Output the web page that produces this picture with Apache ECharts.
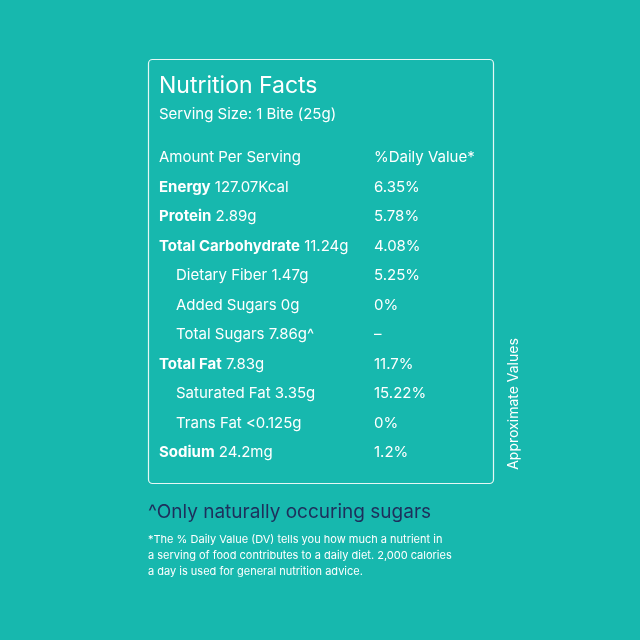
<!DOCTYPE html><html><head><meta charset="utf-8"><script src="https://cdn.jsdelivr.net/npm/echarts@6/dist/echarts.min.js"></script>
<style>html,body{margin:0;background:#17b8ae}#c{width:640px;height:640px}</style></head><body><div id="c"></div><script>
const names=["Energy","Protein","Total Carbohydrate","Dietary Fiber","Added Sugars","Total Sugars","Total Fat","Saturated Fat","Trans Fat","Sodium"];
const amounts=["127.07Kcal","2.89g","11.24g","1.47g","0g","7.86g^","7.83g","3.35g","<0.125g","24.2mg"];
const dailyValues=["6.35%","5.78%","4.08%","5.25%","0%","–","11.7%","15.22%","0%","1.2%"];
const boldFlags=[1,1,1,0,0,0,1,0,0,1];
const F='Inter, "Open Sans", sans-serif';
const g=[];
g.push({type:'rect',shape:{x:148.5,y:59.5,width:345,height:424,r:4},style:{fill:'none',stroke:'#e6f7f5',lineWidth:1.2}});
const txt=(x,y,t,s,extra)=>g.push({type:'text',x:x,y:y,style:Object.assign({text:t,fill:'#fff',font:s+'px '+F,textVerticalAlign:'middle'},extra||{})});
txt(159,86,'Nutrition Facts',23);
txt(159,114,'Serving Size: 1 Bite (25g)',15);
txt(159,157,'Amount Per Serving',15);
txt(374,157,'%Daily Value*',15);
names.forEach((n,i)=>{const y=187+i*29.5;const b=boldFlags[i];
 g.push({type:'text',x:b?159:176,y:y,style:{text:b?'{b|'+n+'} '+amounts[i]:n+' '+amounts[i],fill:'#fff',font:'15px '+F,textVerticalAlign:'middle',rich:{b:{fontWeight:'bold',fontSize:15,fontFamily:F,fill:'#fff'}}}});
 txt(374,y,dailyValues[i],15);});
g.push({type:'text',x:514,y:404,rotation:Math.PI/2,style:{text:'Approximate Values',fill:'#fff',font:'14px '+F,textAlign:'center',textVerticalAlign:'middle'}});
txt(148,512,'^Only naturally occuring sugars',19,{fill:'#1e2f5c'});
['*The % Daily Value (DV) tells you how much a nutrient in','a serving of food contributes to a daily diet. 2,000 calories','a day is used for general nutrition advice.'].forEach((l,i)=>txt(148,540+i*16,l,11));
echarts.init(document.getElementById('c')).setOption({backgroundColor:'#17b8ae',graphic:g});
</script></body></html>
